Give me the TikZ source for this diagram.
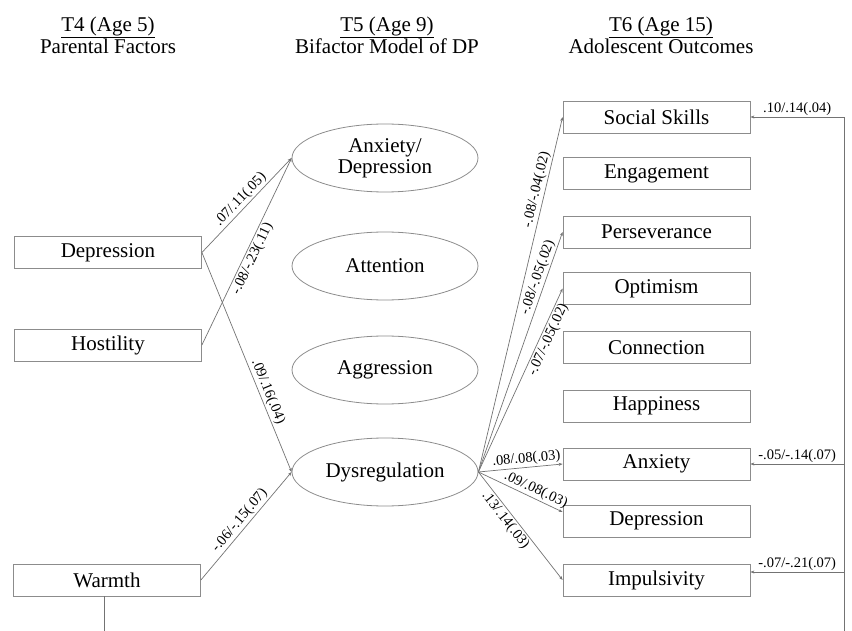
\documentclass[tikz,border=0pt]{standalone}
\usepackage{fontspec}
\setmainfont{Liberation Serif}
\usetikzlibrary{arrows.meta,positioning,shapes.geometric}

\tikzset{
  bigfont/.style={font=\fontsize{21}{24}\selectfont},
  lbl/.style={font=\fontsize{14.5}{16}\selectfont, inner sep=1.5pt},
  varbox/.style={draw=black!45, line width=0.8pt, rectangle, minimum width=187pt,
    minimum height=32pt, inner sep=0pt, bigfont},
  factor/.style={draw=black!45, line width=0.8pt, ellipse, minimum width=186pt,
    minimum height=68pt, inner sep=0pt, bigfont, align=center},
  effect/.style={draw=black!55, line width=0.7pt, -{Stealth[length=4pt,width=3pt]}},
  plainline/.style={draw=black!55, line width=0.7pt},
}

\begin{document}
\begin{tikzpicture}[x=1pt, y=-1pt]
    \useasboundingbox (0,0) rectangle (852,631);

    % Headings
    \node[bigfont, align=center] (headT4) at (108,35) {\underline{T4 (Age 5)}\\[-2pt] Parental Factors};
    \node[bigfont, align=center] (headT5) at (387,35) {\underline{T5 (Age 9)}\\[-2pt] Bifactor Model of DP};
    \node[bigfont, align=center] (headT6) at (661,35) {\underline{T6 (Age 15)}\\[-2pt] Adolescent Outcomes};

    % Parental factors
    \node[varbox] (dep) at (108,252.5) {Depression};
    \node[varbox] (hos) at (108,345) {Hostility};
    \node[varbox] (warm) at (107,580) {Warmth};

    % Bifactor model
    \node[factor] (anxdep) at (385,158) {Anxiety/\\[-3pt]Depression};
    \node[factor] (att) at (385,266) {Attention};
    \node[factor] (agg) at (385,370) {Aggression};
    \node[factor] (dysreg) at (385,472) {Dysregulation};

    % Adolescent outcomes
    \node[varbox] (social) at (656.5,117) {Social Skills};
    \node[varbox] (engage) at (656.5,173.5) {Engagement};
    \node[varbox] (persev) at (656.5,232) {Perseverance};
    \node[varbox] (optim) at (656.5,288.5) {Optimism};
    \node[varbox] (connect) at (656.5,347.5) {Connection};
    \node[varbox] (happy) at (656.5,406) {Happiness};
    \node[varbox] (anxiety) at (656.5,464) {Anxiety};
    \node[varbox] (depress) at (656.5,521) {Depression};
    \node[varbox] (impuls) at (656.5,580) {Impulsivity};

    % Parental factors -> DP
    \draw[effect] (dep.east) -- (anxdep.west) node[lbl, pos=0.5, sloped, above] {.07/.11(.05)};
    \draw[effect] (hos.east) -- (anxdep.west) node[lbl, pos=0.48, sloped, below] {-.08/-.23(.11)};
    \draw[effect] (dep.east) -- (dysreg.west) node[lbl, pos=0.65, sloped, above] {.09/.16(.04)};
    \draw[effect] (warm.east) -- (dysreg.west) node[lbl, pos=0.5, sloped, above] {-.06/-.15(.07)};

    % Dysregulation -> outcomes
    \draw[effect] (dysreg.east) -- (social.west) node[lbl, pos=0.79, sloped, above] {-.08/-.04(.02)};
    \draw[effect] (dysreg.east) -- (persev.west) node[lbl, pos=0.8, sloped, above] {-.08/-.05(.02)};
    \draw[effect] (dysreg.east) -- (optim.west) node[lbl, pos=0.74, sloped, below] {-.07/-.05(.02)};
    \draw[effect] (dysreg.east) -- (anxiety.west) node[lbl, pos=0.58, sloped, above] {.08/.08(.03)};
    \draw[effect] (dysreg.east) -- ([yshift=9pt]depress.west) node[lbl, pos=0.64, sloped, above] {.09/.08(.03)};
    \draw[effect] (dysreg.east) -- (impuls.west) node[lbl, pos=0.4, sloped, below] {.13/.14(.03)};

    % Warmth -> outcomes (continues below)
    \coordinate (warmdown) at (104,631);
    \coordinate (rightdown) at (844,631);
    \coordinate (rightup) at (844,117);
    \draw[plainline] ([xshift=-3pt]warm.south) -- (warmdown);
    \draw[plainline] (rightdown) -- (rightup);
    \draw[effect] (rightup) -- (social.east) node[lbl, pos=0.5, above] {.10/.14(.04)};
    \draw[effect] (rightup |- anxiety.east) -- (anxiety.east) node[lbl, pos=0.5, above] {-.05/-.14(.07)};
    \draw[effect] (rightup |- 0,572) -- ([yshift=8pt]impuls.east) node[lbl, pos=0.5, above] {-.07/-.21(.07)};
\end{tikzpicture}
\end{document}
